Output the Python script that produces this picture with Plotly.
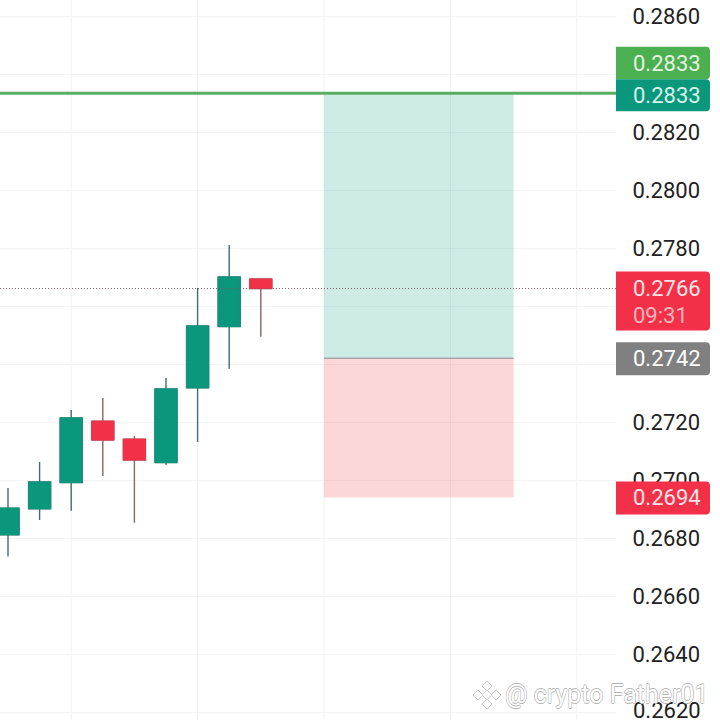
import plotly.graph_objects as go

# candles, oldest first
candle_x = [0, 1, 2, 3, 4, 5, 6, 7, 8]
opens = [0.26811, 0.26901, 0.26991, 0.27203, 0.27141, 0.27060, 0.27318, 0.27529, 0.27693]
highs = [0.26972, 0.27062, 0.27241, 0.27283, 0.27152, 0.27352, 0.27662, 0.27810, 0.27693]
lows = [0.26736, 0.26862, 0.26894, 0.27014, 0.26853, 0.27052, 0.27131, 0.27384, 0.27494]
closes = [0.26903, 0.26993, 0.27214, 0.27138, 0.27069, 0.27314, 0.27531, 0.27700, 0.27660]

y_ticks = [0.2620, 0.2640, 0.2660, 0.2680, 0.2700, 0.2720, 0.2740, 0.2760, 0.2780, 0.2800, 0.2820, 0.2840, 0.2860]
# these labels are not drawn in the original, 0.2620 is added by hand since plotly drops it at the edge
y_tick_labels_hidden = [0.2620, 0.2740, 0.2760, 0.2840]
x_grid = [2, 6, 10, 14, 18]

target_price = 0.2833
entry_price = 0.2742
stop_price = 0.2694
last_price = 0.2766
countdown = "09:31"
box_x = [10, 16]

GREEN = "#0A977C"
RED = "#F23148"
WICK_GREEN = "#3D6F70"
WICK_RED = "#8C6468"
FONT = "Roboto"

# axis window, the chart stops at 616 px and the price scale sits right of it
PLOT_W = 616
SIZE = 720
PX_PER_BAR = 31.6
FIRST_BAR_PX = 8
PX_PER_PRICE = 29000
Y_TOP = 0.2780 + 248 / PX_PER_PRICE
Y_BOTTOM = Y_TOP - SIZE / PX_PER_PRICE


def price_px(price):
    return (Y_TOP - price) * PX_PER_PRICE


def paper_x(px):
    return px / SIZE


def paper_y(px):
    return 1 - px / SIZE


def path_from_px(points, close=True):
    # points are in screen pixels, shapes want paper fractions
    parts = [f"{paper_x(x):.5f} {paper_y(y):.5f}" for x, y in points]
    return "M " + " L ".join(parts) + (" Z" if close else "")


def tag_path(top, bottom, left=616, right=710, r=4):
    # square on the chart side, rounded on the right
    return (
        f"M {paper_x(left):.5f} {paper_y(top):.5f} L {paper_x(right - r):.5f} {paper_y(top):.5f} "
        f"Q {paper_x(right):.5f} {paper_y(top):.5f} {paper_x(right):.5f} {paper_y(top + r):.5f} "
        f"L {paper_x(right):.5f} {paper_y(bottom - r):.5f} "
        f"Q {paper_x(right):.5f} {paper_y(bottom):.5f} {paper_x(right - r):.5f} {paper_y(bottom):.5f} "
        f"L {paper_x(left):.5f} {paper_y(bottom):.5f} Z"
    )


def diamond(cx, cy, d):
    return path_from_px([(cx, cy - d), (cx + d, cy), (cx, cy + d), (cx - d, cy)])


fig = go.Figure()

# wicks first, the body trace on top hides the part inside the body
fig.add_trace(
    go.Candlestick(
        x=candle_x, open=opens, high=highs, low=lows, close=closes,
        increasing=dict(line=dict(color=WICK_GREEN, width=1.4), fillcolor=GREEN),
        decreasing=dict(line=dict(color=WICK_RED, width=1.4), fillcolor=RED),
        whiskerwidth=0, hoverinfo="skip", showlegend=False,
    )
)
fig.add_trace(
    go.Candlestick(
        x=candle_x,
        open=opens,
        high=[max(o, c) for o, c in zip(opens, closes)],
        low=[min(o, c) for o, c in zip(opens, closes)],
        close=closes,
        increasing=dict(line=dict(color=GREEN, width=1), fillcolor=GREEN),
        decreasing=dict(line=dict(color=RED, width=1), fillcolor=RED),
        whiskerwidth=0, hoverinfo="skip", showlegend=False,
    )
)

for x in x_grid:
    fig.add_shape(type="line", x0=x, x1=x, y0=0, y1=1, xref="x", yref="paper",
                  line=dict(color="#F0F1F3", width=1), layer="below")

fig.add_shape(type="rect", x0=box_x[0], x1=box_x[1], y0=entry_price, y1=target_price,
              fillcolor="rgba(8,153,129,0.2)", line_width=0, layer="above")
fig.add_shape(type="rect", x0=box_x[0], x1=box_x[1], y0=stop_price, y1=entry_price,
              fillcolor="rgba(242,54,69,0.2)", line_width=0, layer="above")
fig.add_shape(type="line", x0=box_x[0], x1=box_x[1], y0=entry_price, y1=entry_price,
              line=dict(color="#8A8A8A", width=1), layer="above")
fig.add_shape(type="line", x0=0, x1=paper_x(PLOT_W), xref="paper", y0=target_price + 0.00004, y1=target_price + 0.00004,
              line=dict(color="#5AAE61", width=3), layer="above")
fig.add_shape(type="line", x0=0, x1=paper_x(PLOT_W), xref="paper", y0=last_price, y1=last_price,
              line=dict(color="#7A5A5E", width=1, dash="1px,2px"), layer="above")

# price tags
tags = [
    (target_price, -47.5, -15, "#4CAF50", "#E4F5E0"),
    (target_price, -15, 17, "#0A977C", "#D5F5EC"),
    (entry_price, -16, 17, "#808080", "#FFFFFF"),
    (stop_price, -16, 17, RED, "#FFE3E6"),
]
shapes_px = [(price_px(p) + a, price_px(p) + b, c) for p, a, b, c, _ in tags]
shapes_px.append((price_px(last_price) - 17, price_px(last_price) + 42, RED))
for top, bottom, color in shapes_px:
    fig.add_shape(type="path", path=tag_path(top, bottom), xref="paper", yref="paper",
                  fillcolor=color, line_width=0, layer="above")


def tag_text(text, y_px, color):
    fig.add_annotation(x=paper_x(633), y=paper_y(y_px), xref="paper", yref="paper", text=text,
                       showarrow=False, xanchor="left", yanchor="middle", xshift=-2,
                       font=dict(family=FONT, size=22, color=color))


for (p, a, b, _, tc) in tags:
    tag_text(f"{p:.4f}", price_px(p) + (a + b) / 2, tc)
tag_text(f"{last_price:.4f}", price_px(last_price), "#FFE3E6")
tag_text(countdown, price_px(last_price) + 27, "#FBB4BD")
tag_text("0.2620", 710, "#222222")

# watermark
logo_cx, logo_cy = 487, 695
for dx, dy, d in [(0, 0, 5), (0, -9, 5), (0, 9, 5), (-9, 0, 5), (9, 0, 5)]:
    fig.add_shape(type="path", xref="paper", yref="paper", layer="above",
                  path=diamond(logo_cx + dx, logo_cy + dy, d),
                  fillcolor="rgba(255,255,255,0.7)", line=dict(color="#CFCFCF", width=1))
fig.add_annotation(x=paper_x(505), y=paper_y(694), xref="paper", yref="paper", text="@ crypto Father01",
                   showarrow=False, xanchor="left", yanchor="middle", xshift=-2,
                   font=dict(family=FONT, size=25, color="#FFFFFF",
                             shadow="0.6px 0 0 #B5B5B5, -0.6px 0 0 #B5B5B5, 0 0.6px 0 #B5B5B5, 0 -0.6px 0 #B5B5B5"))

fig.update_layout(
    width=SIZE, height=SIZE,
    margin=dict(l=0, r=0, t=0, b=0),
    paper_bgcolor="#FFFFFF", plot_bgcolor="#FFFFFF",
    font=dict(family=FONT, color="#222222"),
    showlegend=False, boxgap=0.0,
    xaxis=dict(domain=[0, PLOT_W / SIZE],
               range=[-FIRST_BAR_PX / PX_PER_BAR, (PLOT_W - FIRST_BAR_PX) / PX_PER_BAR],
               showgrid=False, zeroline=False, showticklabels=False, rangeslider=dict(visible=False)),
    yaxis=dict(domain=[0, 1], range=[Y_BOTTOM, Y_TOP], side="right", tickmode="array",
               tickvals=y_ticks,
               ticktext=["" if t in y_tick_labels_hidden else f"{t:.4f}" for t in y_ticks],
               ticks="outside", ticklen=11, tickcolor="rgba(0,0,0,0)",
               tickfont=dict(family=FONT, size=22, color="#222222"),
               showgrid=True, gridcolor="#F3F4F6", gridwidth=1, zeroline=False, showline=False),
)

fig.write_html("out.html", config=dict(displayModeBar=False),
               post_script="document.body.style.margin='0';")
